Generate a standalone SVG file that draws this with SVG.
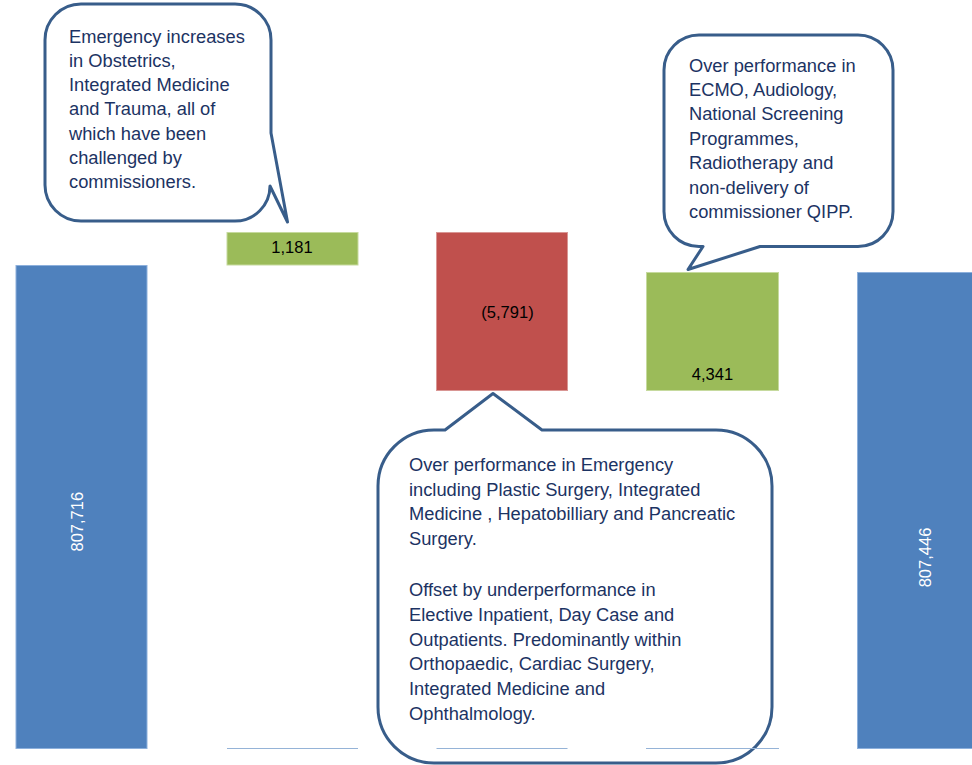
<svg xmlns="http://www.w3.org/2000/svg" width="972" height="765" viewBox="0 0 972 765">
  <style>
    .blue { fill: #4F81BD; stroke: #8DB0DC; stroke-width: 1; }
    .green { fill: #9BBB59; stroke: #C6DA9E; stroke-width: 1; }
    .red { fill: #C0504D; stroke: #D99694; stroke-width: 1; }
    .vlab { font-family: "Liberation Sans", Arial, sans-serif; font-size: 16.5px; fill: #000000; text-anchor: middle; }
    .wlab { font-family: "Liberation Sans", Arial, sans-serif; font-size: 16.5px; fill: #FFFFFF; text-anchor: middle; }
    .bubble { fill: #FFFFFF; stroke: #385D8A; stroke-width: 3; stroke-linejoin: round; }
    .btext { font-family: "Liberation Sans", Arial, sans-serif; font-size: 18.3px; fill: #1C3363; }
    .base { stroke: #95B3D7; stroke-width: 1; }
  </style>
  <rect width="972" height="765" fill="#FFFFFF"/>

  <g id="bar-start">
    <rect class="blue" x="16" y="265.5" width="131" height="483"/>
    <text class="wlab" transform="translate(77,521.7) rotate(-90)" y="6">807,716</text>
  </g>
  <g id="bar-1181">
    <rect class="green" x="227" y="232.5" width="131" height="32.5"/>
    <text class="vlab" x="292" y="253">1,181</text>
  </g>
  <g id="bar-5791">
    <rect class="red" x="436.5" y="232.5" width="131" height="158"/>
    <text class="vlab" x="507.5" y="318">(5,791)</text>
  </g>
  <g id="bar-4341">
    <rect class="green" x="646.5" y="272.5" width="132" height="118"/>
    <text class="vlab" x="712.5" y="379.5">4,341</text>
  </g>
  <g id="bar-end">
    <rect class="blue" x="857.5" y="272.5" width="131" height="476"/>
    <text class="wlab" transform="translate(925,557.5) rotate(-90)" y="6">807,446</text>
  </g>

  <g id="callout-emergency">
    <path class="bubble" d="M 81,4 H 235 A 36 36 0 0 1 271,40 V 133 L 287.5,222 L 270,186 A 35 35 0 0 1 235,221 H 81 A 36 36 0 0 1 45,185 V 40 A 36 36 0 0 1 81,4 Z"/>
    <text class="btext">
      <tspan x="69" y="42.5">Emergency increases</tspan>
      <tspan x="69" y="66.8">in Obstetrics,</tspan>
      <tspan x="69" y="91.1">Integrated Medicine</tspan>
      <tspan x="69" y="115.4">and Trauma, all of</tspan>
      <tspan x="69" y="139.7">which have been</tspan>
      <tspan x="69" y="164">challenged by</tspan>
      <tspan x="69" y="188.3">commissioners.</tspan>
    </text>
  </g>

  <g id="callout-ecmo">
    <path class="bubble" d="M 699,35 H 858 A 35 35 0 0 1 893,70 V 211 A 35 35 0 0 1 858,246.5 H 760 L 688,269.5 L 703,246.5 H 699 A 35 35 0 0 1 664,211 V 70 A 35 35 0 0 1 699,35 Z"/>
    <text class="btext">
      <tspan x="689" y="71.5">Over performance in</tspan>
      <tspan x="689" y="95.9">ECMO, Audiology,</tspan>
      <tspan x="689" y="120.3">National Screening</tspan>
      <tspan x="689" y="144.7">Programmes,</tspan>
      <tspan x="689" y="169.1">Radiotherapy and</tspan>
      <tspan x="689" y="193.5">non-delivery of</tspan>
      <tspan x="689" y="217.9">commissioner QIPP.</tspan>
    </text>
  </g>

  <g id="callout-overperformance">
    <path class="bubble" d="M 434,430 H 445 L 493,393.5 L 542,430 H 716 A 56 56 0 0 1 772,486 V 707 A 56 56 0 0 1 716,763 H 434 A 56 56 0 0 1 378,707 V 486 A 56 56 0 0 1 434,430 Z"/>
    <text class="btext">
      <tspan x="409" y="470.7">Over performance in Emergency</tspan>
      <tspan x="409" y="495.5">including Plastic Surgery, Integrated</tspan>
      <tspan x="409" y="520.4">Medicine , Hepatobilliary and Pancreatic</tspan>
      <tspan x="409" y="545.2">Surgery.</tspan>
      <tspan x="409" y="595.9">Offset by underperformance in</tspan>
      <tspan x="409" y="620.7">Elective Inpatient, Day Case and</tspan>
      <tspan x="409" y="645.6">Outpatients. Predominantly within</tspan>
      <tspan x="409" y="670.4">Orthopaedic, Cardiac Surgery,</tspan>
      <tspan x="409" y="695.3">Integrated Medicine and</tspan>
      <tspan x="409" y="720.1">Ophthalmology.</tspan>
    </text>
  </g>

  <g id="connectors">
    <line class="base" x1="227" y1="748.5" x2="358" y2="748.5"/>
    <line class="base" x1="436.5" y1="748.5" x2="567.5" y2="748.5"/>
    <line class="base" x1="646" y1="748.5" x2="779" y2="748.5"/>
  </g>
</svg>
